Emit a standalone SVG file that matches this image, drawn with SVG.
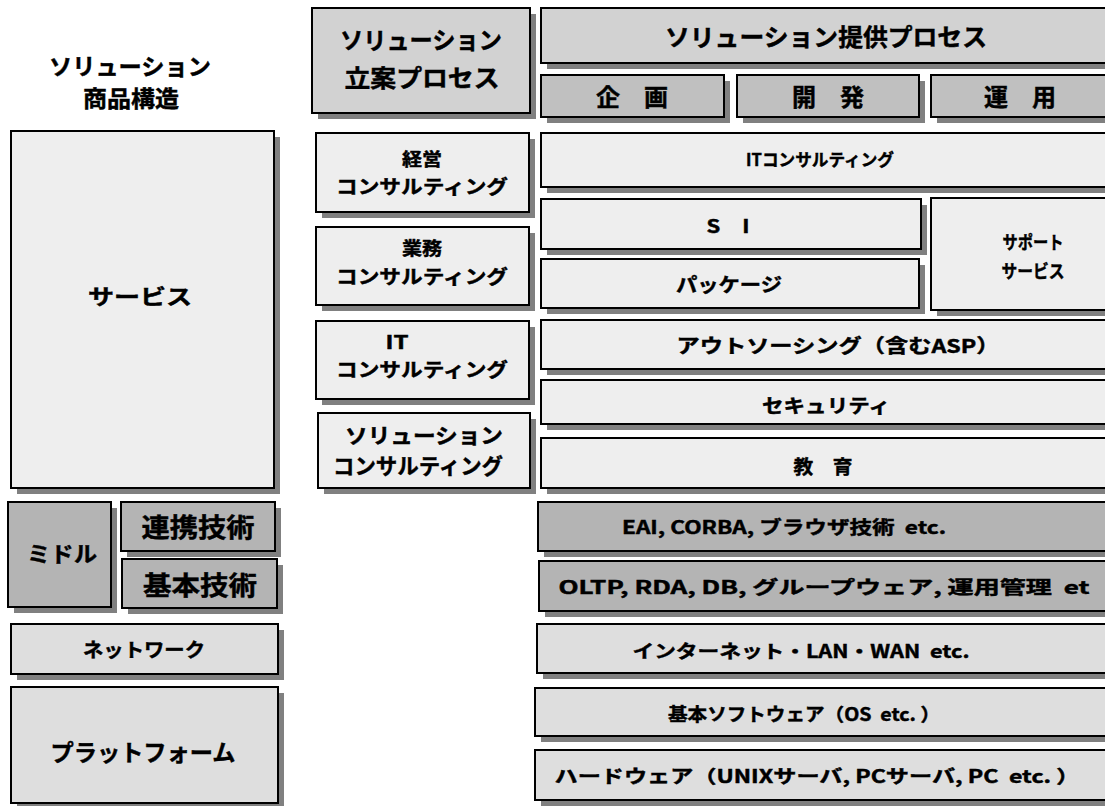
<svg xmlns="http://www.w3.org/2000/svg" width="1105" height="806" viewBox="0 0 1105 806">
<style>
.sh{fill:#808080}
.b{stroke:#000;stroke-width:2}
.f1{fill:#eeeeee}
.f2{fill:#d2d2d2}
.f3{fill:#c0c0c0}
.f4{fill:#b4b4b4}
.f5{fill:#dedede}
text{font-family:"Noto Sans CJK JP","Noto Sans CJK SC",sans-serif;font-weight:bold;text-anchor:middle;fill:#000;stroke:#000;stroke-width:0.45}
</style>
<rect width="1105" height="806" fill="#fff"/>
<g id="title">
<text x="130" y="74.5" font-size="23" textLength="162" lengthAdjust="spacingAndGlyphs">ソリューション</text>
<text x="131" y="106.5" font-size="23" textLength="96" lengthAdjust="spacingAndGlyphs">商品構造</text>
</g>
<g id="plan">
<rect class="sh" x="318" y="14" width="218" height="105"/>
<rect class="b f2" x="312" y="8" width="218" height="105"/>
<text x="421" y="49" font-size="24" textLength="162" lengthAdjust="spacingAndGlyphs">ソリューション</text>
<text x="422" y="87" font-size="24" textLength="155" lengthAdjust="spacingAndGlyphs">立案プロセス</text>
</g>
<g id="provide">
<rect class="sh" x="547" y="14" width="570" height="55"/>
<rect class="b f2" x="541" y="8" width="570" height="55"/>
<text x="826" y="46" font-size="24" textLength="322" lengthAdjust="spacingAndGlyphs">ソリューション提供プロセス</text>
</g>
<g id="kikaku">
<rect class="sh" x="547" y="81" width="183" height="42"/>
<rect class="b f3" x="541" y="75" width="183" height="42"/>
<text x="632" y="106" font-size="24">企　画</text>
</g>
<g id="kaihatsu">
<rect class="sh" x="743" y="81" width="182" height="42"/>
<rect class="b f3" x="737" y="75" width="182" height="42"/>
<text x="828" y="106" font-size="24">開　発</text>
</g>
<g id="unyo">
<rect class="sh" x="937" y="81" width="180" height="42"/>
<rect class="b f3" x="931" y="75" width="180" height="42"/>
<text x="1020" y="106" font-size="24">運　用</text>
</g>
<g id="keiei">
<rect class="sh" x="322" y="139" width="213" height="79"/>
<rect class="b f1" x="316" y="133" width="213" height="79"/>
<text x="422" y="166" font-size="18" textLength="40" lengthAdjust="spacingAndGlyphs">経営</text>
<text x="422" y="194" font-size="19" textLength="172" lengthAdjust="spacingAndGlyphs">コンサルティング</text>
</g>
<g id="gyomu">
<rect class="sh" x="322" y="233" width="213" height="78"/>
<rect class="b f1" x="316" y="227" width="213" height="78"/>
<text x="422" y="255" font-size="18" textLength="40" lengthAdjust="spacingAndGlyphs">業務</text>
<text x="422" y="284" font-size="19" textLength="172" lengthAdjust="spacingAndGlyphs">コンサルティング</text>
</g>
<g id="itc">
<rect class="sh" x="322" y="327" width="213" height="78"/>
<rect class="b f1" x="316" y="321" width="213" height="78"/>
<text x="397" y="349" font-size="18" textLength="23" lengthAdjust="spacingAndGlyphs">IT</text>
<text x="422" y="377" font-size="19" textLength="172" lengthAdjust="spacingAndGlyphs">コンサルティング</text>
</g>
<g id="solc">
<rect class="sh" x="324" y="419" width="212" height="75"/>
<rect class="b f1" x="318" y="413" width="212" height="75"/>
<text x="424" y="443" font-size="21" textLength="158" lengthAdjust="spacingAndGlyphs">ソリューション</text>
<text x="418" y="474" font-size="22" textLength="170" lengthAdjust="spacingAndGlyphs">コンサルティング</text>
</g>
<g id="itconsult">
<rect class="sh" x="547" y="139" width="570" height="54"/>
<rect class="b f1" x="541" y="133" width="570" height="54"/>
<text x="820" y="166" font-size="17" textLength="148" lengthAdjust="spacingAndGlyphs">ITコンサルティング</text>
</g>
<g id="si">
<rect class="sh" x="547" y="205" width="380" height="50"/>
<rect class="b f1" x="541" y="199" width="380" height="50"/>
<text x="728" y="232.5" font-size="18" textLength="43" lengthAdjust="spacingAndGlyphs">S　I</text>
</g>
<g id="package">
<rect class="sh" x="547" y="265" width="378" height="49"/>
<rect class="b f1" x="541" y="259" width="378" height="49"/>
<text x="729" y="292" font-size="19" textLength="106" lengthAdjust="spacingAndGlyphs">パッケージ</text>
</g>
<g id="support">
<rect class="sh" x="937" y="204" width="180" height="112"/>
<rect class="b f1" x="931" y="198" width="180" height="112"/>
<text x="1033" y="248.5" font-size="18" textLength="61" lengthAdjust="spacingAndGlyphs">サポート</text>
<text x="1033" y="277.5" font-size="18" textLength="63" lengthAdjust="spacingAndGlyphs">サービス</text>
</g>
<g id="outsourcing">
<rect class="sh" x="547" y="326" width="570" height="49"/>
<rect class="b f1" x="541" y="320" width="570" height="49"/>
<text x="838" y="353" font-size="19" textLength="323" lengthAdjust="spacingAndGlyphs">アウトソーシング（含むASP）</text>
</g>
<g id="security">
<rect class="sh" x="547" y="386" width="570" height="44"/>
<rect class="b f1" x="541" y="380" width="570" height="44"/>
<text x="826" y="413" font-size="19" textLength="128" lengthAdjust="spacingAndGlyphs">セキュリティ</text>
</g>
<g id="education">
<rect class="sh" x="547" y="444" width="570" height="50"/>
<rect class="b f1" x="541" y="438" width="570" height="50"/>
<text x="823" y="474" font-size="19" textLength="59" lengthAdjust="spacingAndGlyphs">教　育</text>
</g>
<g id="eai">
<rect class="sh" x="544" y="508" width="570" height="49"/>
<rect class="b f4" x="538" y="502" width="570" height="49"/>
<text x="784" y="533.5" font-size="18" textLength="324" lengthAdjust="spacingAndGlyphs">EAI, CORBA, ブラウザ技術&#160;&#160;etc.</text>
</g>
<g id="oltp">
<rect class="sh" x="545" y="567" width="570" height="50"/>
<rect class="b f4" x="539" y="561" width="570" height="50"/>
<text x="824" y="593.5" font-size="18" textLength="531" lengthAdjust="spacingAndGlyphs">OLTP, RDA, DB, グループウェア, 運用管理&#160;&#160;et</text>
</g>
<g id="internet">
<rect class="sh" x="543" y="630" width="570" height="49"/>
<rect class="b f5" x="537" y="624" width="570" height="49"/>
<text x="801" y="657.5" font-size="18" textLength="337" lengthAdjust="spacingAndGlyphs">インターネット・LAN・WAN&#160;&#160;etc.</text>
</g>
<g id="basesoft">
<rect class="sh" x="541" y="694" width="575" height="48"/>
<rect class="b f5" x="535" y="688" width="575" height="48"/>
<text x="804" y="720.5" font-size="18" textLength="272" lengthAdjust="spacingAndGlyphs">基本ソフトウェア（OS&#160;&#160;etc. ）</text>
</g>
<g id="hardware">
<rect class="sh" x="541" y="756" width="575" height="50"/>
<rect class="b f5" x="535" y="750" width="575" height="50"/>
<text x="817" y="782.5" font-size="18" textLength="525" lengthAdjust="spacingAndGlyphs">ハードウェア（UNIXサーバ, PCサーバ, PC&#160;&#160;etc. ）</text>
</g>
<g id="service">
<rect class="sh" x="17" y="137" width="263" height="357"/>
<rect class="b f1" x="11" y="131" width="263" height="357"/>
<text x="140" y="304" font-size="21" textLength="104" lengthAdjust="spacingAndGlyphs">サービス</text>
</g>
<g id="middle">
<rect class="sh" x="14" y="508" width="103" height="105"/>
<rect class="b f4" x="8" y="502" width="103" height="105"/>
<text x="62" y="562" font-size="22" textLength="70" lengthAdjust="spacingAndGlyphs">ミドル</text>
</g>
<g id="renkei">
<rect class="sh" x="127" y="508" width="154" height="49"/>
<rect class="b f4" x="121" y="502" width="154" height="49"/>
<text x="198" y="536.5" font-size="26" textLength="113" lengthAdjust="spacingAndGlyphs">連携技術</text>
</g>
<g id="kihon">
<rect class="sh" x="128" y="565" width="155" height="49"/>
<rect class="b f4" x="122" y="559" width="155" height="49"/>
<text x="200" y="594.5" font-size="26" textLength="114" lengthAdjust="spacingAndGlyphs">基本技術</text>
</g>
<g id="network">
<rect class="sh" x="17" y="630" width="267" height="50"/>
<rect class="b f5" x="11" y="624" width="267" height="50"/>
<text x="144" y="657" font-size="19" textLength="122" lengthAdjust="spacingAndGlyphs">ネットワーク</text>
</g>
<g id="platform">
<rect class="sh" x="17" y="693" width="267" height="116"/>
<rect class="b f5" x="11" y="687" width="267" height="116"/>
<text x="143" y="760.5" font-size="23" textLength="185" lengthAdjust="spacingAndGlyphs">プラットフォーム</text>
</g>
<g id="connectors"></g>
</svg>
